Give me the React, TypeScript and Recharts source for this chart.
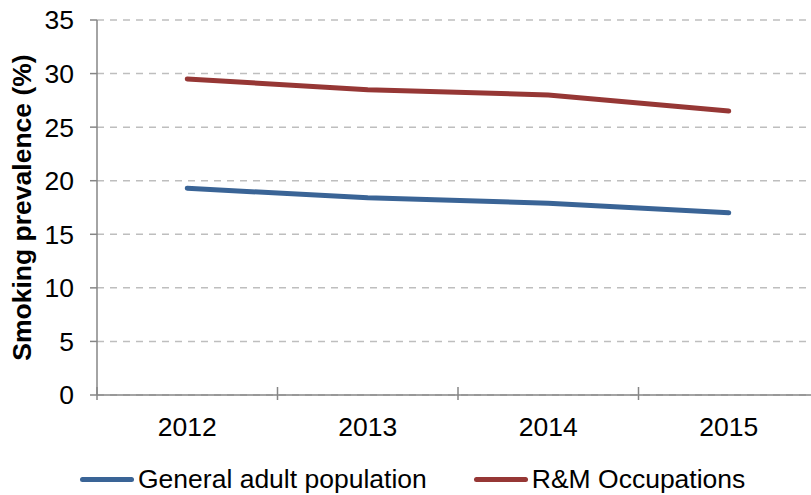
import React from "react";
import { LineChart, Line, XAxis, YAxis, CartesianGrid, Legend } from "recharts";

const years = [2012, 2013, 2014, 2015];
const generalAdult = [19.3, 18.4, 17.9, 17.0];
const rmOccupations = [29.5, 28.5, 28.0, 26.5];
const yTicks = [0, 5, 10, 15, 20, 25, 30, 35];
const xBoundaries = [2011.5, 2012.5, 2013.5, 2014.5, 2015.5];

const data = years.map((year, i) => ({
  year,
  general: generalAdult[i],
  rm: rmOccupations[i],
}));

const W = 830;
const H = 495;
const M = { top: 20, right: 11, left: 0, bottom: 0 };
const Y_AXIS_W = 97;
// half of one year band, in px, so labels sit between the boundary ticks
const HALF_BAND = (W - M.right - M.left - Y_AXIS_W) / (xBoundaries.length - 1) / 2;

const FONT = "'Liberation Sans', Arial, sans-serif";
const FS = 26.5;
const AXIS = "#868686";

function XTick(props: any) {
  const { x, y, payload } = props;
  const v = payload.value as number;
  const last = v >= xBoundaries[xBoundaries.length - 1];
  return (
    <g>
      <line x1={x} x2={x} y1={y - 8} y2={y + 5} stroke={AXIS} strokeWidth={1.5} />
      {!last && (
        <text x={x + HALF_BAND} y={y + 22} dy="0.71em" textAnchor="middle"
          fill="#000" fontSize={FS} fontFamily={FONT}>
          {String(v + 0.5)}
        </text>
      )}
    </g>
  );
}

function YLabel(props: any) {
  const vb = props.viewBox || { y: M.top, height: 375 };
  const cy = vb.y + vb.height / 2;
  return (
    <text x={31} y={cy} transform={`rotate(-90, 31, ${cy})`} textAnchor="middle"
      fontSize={FS} fontWeight="bold" fontFamily={FONT} fill="#000">
      Smoking prevalence (%)
    </text>
  );
}

function LegendContent(props: any) {
  const items = props.payload || [];
  return (
    <div style={{ display: "flex", alignItems: "center", paddingLeft: 80, paddingTop: 24, fontFamily: FONT, fontSize: FS, color: "#000" }}>
      {items.map((it: any, i: number) => (
        <div key={i} style={{ display: "flex", alignItems: "center", marginRight: 47 }}>
          <span style={{ display: "inline-block", width: 54, height: 5, borderRadius: 3, background: it.color, marginRight: 4 }} />
          <span>{it.value}</span>
        </div>
      ))}
    </div>
  );
}

export default function App() {
  return (
    <div style={{ position: "absolute", left: 0, top: 0, width: 811, height: 495, overflow: "hidden", background: "#fff" }}>
      <LineChart width={W} height={H} data={data} margin={M}>
        <CartesianGrid vertical={false} stroke="#BEBEBE" strokeWidth={1.5} strokeDasharray="7 6" />
        <XAxis
          dataKey="year"
          type="number"
          domain={[2011.5, 2015.5]}
          ticks={xBoundaries}
          interval={0}
          tickLine={false}
          tickSize={0}
          tickMargin={0}
          height={45}
          axisLine={{ stroke: AXIS, strokeWidth: 1.5 }}
          tick={<XTick />}
        />
        <YAxis
          domain={[0, 35]}
          ticks={yTicks}
          interval={0}
          width={Y_AXIS_W}
          tickSize={7}
          tickMargin={16}
          axisLine={{ stroke: AXIS, strokeWidth: 1.5 }}
          tickLine={{ stroke: AXIS, strokeWidth: 1.5 }}
          tick={{ fill: "#000", fontSize: FS, fontFamily: FONT }}
          label={<YLabel />}
        />
        <Legend verticalAlign="bottom" height={55} content={<LegendContent />} />
        <Line type="linear" dataKey="general" name="General adult population" stroke="#3A6496"
          strokeWidth={5} strokeLinecap="round" dot={false} activeDot={false} isAnimationActive={false} />
        <Line type="linear" dataKey="rm" name="R&M Occupations" stroke="#963735"
          strokeWidth={5} strokeLinecap="round" dot={false} activeDot={false} isAnimationActive={false} />
      </LineChart>
    </div>
  );
}
